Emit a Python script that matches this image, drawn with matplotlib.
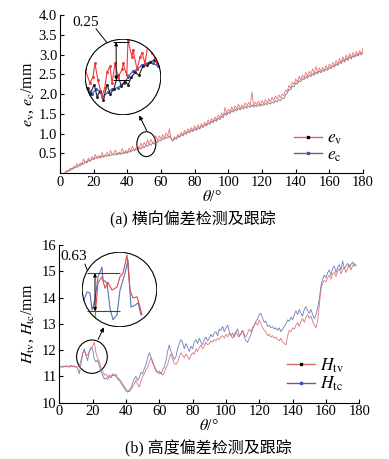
import numpy as np
import matplotlib
matplotlib.use("Agg")
import matplotlib.pyplot as plt
from matplotlib.patches import Circle, Ellipse
from matplotlib.lines import Line2D

plt.rcParams['font.family'] = ['Liberation Serif', 'Noto Sans CJK SC']
plt.rcParams['mathtext.fontset'] = 'stix'

# ---------------- data (a) ----------------
theta_a = np.arange(3, 181)
e_v = [0.02, 0.06, 0.04, 0.12, 0.09, 0.16, 0.13, 0.24, 0.17, 0.25,
       0.21, 0.36, 0.26, 0.30, 0.38, 0.29, 0.42, 0.35, 0.47, 0.38,
       0.44, 0.40, 0.52, 0.41, 0.46, 0.52, 0.43, 0.57, 0.47, 0.51,
       0.58, 0.46, 0.53, 0.49, 0.62, 0.50, 0.57, 0.52, 0.63, 0.55,
       0.68, 0.57, 0.62, 0.71, 0.60, 0.76, 0.65, 0.78, 0.68, 0.84,
       0.72, 0.85, 0.76, 0.80, 0.95, 0.82, 0.94, 0.86, 0.97, 0.89,
       1.02, 0.93, 1.12, 0.88, 0.80, 0.92, 0.86, 0.98, 0.91, 1.03,
       0.96, 1.08, 1.00, 1.12, 1.04, 1.15, 1.07, 1.20, 1.10, 1.22,
       1.14, 1.25, 1.18, 1.29, 1.21, 1.35, 1.26, 1.38, 1.30, 1.42,
       1.35, 1.47, 1.39, 1.52, 1.44, 1.66, 1.50, 1.62, 1.55, 1.67,
       1.58, 1.70, 1.61, 1.74, 1.63, 1.72, 1.66, 1.78, 1.68, 1.79,
       1.70, 2.05, 1.69, 1.80, 1.72, 1.82, 1.71, 1.84, 1.75, 1.86,
       1.77, 1.88, 1.80, 1.92, 1.83, 1.95, 1.86, 1.98, 1.90, 2.00,
       1.95, 2.10, 2.06, 2.22, 2.15, 2.30, 2.24, 2.38, 2.30, 2.45,
       2.36, 2.48, 2.40, 2.55, 2.44, 2.58, 2.48, 2.64, 2.50, 2.70,
       2.54, 2.66, 2.57, 2.68, 2.60, 2.72, 2.63, 2.76, 2.67, 2.80,
       2.70, 2.85, 2.74, 2.90, 2.79, 2.94, 2.83, 2.99, 2.87, 3.02,
       2.92, 3.05, 2.95, 3.08, 2.98, 3.10, 3.01, 3.16]
e_c = [0.01, 0.03, 0.07, 0.05, 0.12, 0.10, 0.17, 0.14, 0.20, 0.18,
       0.25, 0.22, 0.29, 0.26, 0.33, 0.30, 0.36, 0.34, 0.39, 0.37,
       0.41, 0.38, 0.43, 0.40, 0.45, 0.42, 0.46, 0.44, 0.48, 0.45,
       0.49, 0.46, 0.50, 0.47, 0.51, 0.49, 0.53, 0.50, 0.55, 0.53,
       0.58, 0.56, 0.61, 0.58, 0.64, 0.61, 0.67, 0.64, 0.70, 0.67,
       0.73, 0.70, 0.76, 0.73, 0.80, 0.77, 0.84, 0.81, 0.88, 0.85,
       0.91, 0.88, 0.94, 0.86, 0.82, 0.88, 0.85, 0.93, 0.90, 0.97,
       0.94, 1.01, 0.98, 1.05, 1.02, 1.09, 1.05, 1.12, 1.08, 1.15,
       1.11, 1.19, 1.15, 1.23, 1.19, 1.27, 1.23, 1.31, 1.27, 1.35,
       1.31, 1.39, 1.35, 1.44, 1.40, 1.52, 1.46, 1.54, 1.50, 1.58,
       1.54, 1.61, 1.57, 1.64, 1.60, 1.66, 1.62, 1.68, 1.64, 1.69,
       1.66, 1.72, 1.67, 1.71, 1.68, 1.73, 1.69, 1.74, 1.71, 1.76,
       1.73, 1.78, 1.75, 1.80, 1.77, 1.83, 1.80, 1.86, 1.83, 1.90,
       1.88, 1.98, 2.02, 2.12, 2.10, 2.20, 2.18, 2.28, 2.25, 2.34,
       2.31, 2.39, 2.36, 2.44, 2.40, 2.48, 2.44, 2.51, 2.47, 2.55,
       2.51, 2.58, 2.54, 2.60, 2.57, 2.63, 2.60, 2.67, 2.64, 2.71,
       2.68, 2.76, 2.72, 2.81, 2.77, 2.86, 2.81, 2.90, 2.85, 2.94,
       2.89, 2.97, 2.93, 3.00, 2.96, 3.03, 2.99, 3.06]

# zoomed detail (a)
zin_a_red_t = [46.0, 46.66, 47.05, 47.3, 47.7, 48.24, 48.6, 48.9, 49.3, 49.55, 49.95, 50.35, 50.9,
               51.0, 51.5, 51.65, 52.2, 52.3, 52.85, 53.25, 53.5, 53.9, 54.3, 54.8, 55.2, 55.5]
zin_a_red_e = [0.80, 0.71, 0.75, 0.84, 0.73, 0.62, 0.68, 0.78, 0.82, 0.71, 0.84, 0.75, 0.80,
               0.84, 0.76, 0.99, 0.88, 0.93, 0.80, 0.88, 0.91, 0.84, 0.97, 0.91, 0.88, 0.84]
zin_a_blk_t = [46.2, 46.7, 47.2, 47.6, 48.0, 48.4, 48.9, 49.3, 49.8, 50.3, 50.8, 51.2, 51.7, 52.1,
               52.6, 53.1, 53.6, 54.1, 54.6, 55.1, 55.5]
zin_a_blk_e = [0.68, 0.64, 0.70, 0.62, 0.66, 0.60, 0.70, 0.64, 0.67, 0.76, 0.69, 0.72, 0.70, 0.75,
               0.78, 0.76, 0.82, 0.83, 0.85, 0.86, 0.84]
zin_a_blu_t = [46.4, 46.9, 47.5, 48.0, 48.4, 49.0, 49.6, 50.3, 51.1, 51.7, 52.3, 52.9, 53.5, 54.3, 55.0, 55.6]
zin_a_blu_e = [0.68, 0.64, 0.67, 0.65, 0.62, 0.65, 0.67, 0.68, 0.71, 0.75, 0.79, 0.80, 0.83, 0.84, 0.84, 0.82]

# ---------------- data (b) ----------------
H_tv = [11.35, 11.37, 11.34, 11.38, 11.36, 11.39, 11.35, 11.37, 11.40, 11.36,
        11.38, 11.35, 11.40, 11.60, 11.90, 11.95, 11.85, 11.80, 11.95, 12.05,
        12.15, 12.30, 11.90, 11.70, 11.55, 11.35, 11.20, 11.05, 11.10, 10.98,
        11.05, 11.00, 11.10, 11.05, 11.00, 10.95, 10.90, 10.82, 10.70, 10.62,
        10.52, 10.45, 10.42, 10.50, 10.60, 10.72, 10.85, 10.70, 10.60, 10.80,
        11.00, 11.10, 11.25, 11.35, 11.55, 11.70, 11.60, 11.35, 11.20, 11.15,
        11.10, 11.15, 11.05, 11.15, 11.30, 11.45, 11.70, 11.85, 11.65, 11.50,
        11.45, 11.55, 11.75, 11.90, 11.80, 11.70, 11.85, 11.75, 11.65, 11.80,
        11.90, 11.85, 12.05, 11.95, 12.10, 12.20, 12.05, 12.15, 12.30, 12.20,
        12.25, 12.35, 12.30, 12.40, 12.35, 12.45, 12.40, 12.50, 12.55, 12.45,
        12.60, 12.50, 12.65, 12.55, 12.45, 12.60, 12.70, 12.55, 12.50, 12.65,
        12.75, 12.60, 12.50, 12.65, 12.80, 12.70, 12.85, 12.95, 13.05, 12.95,
        13.15, 13.00, 12.85, 12.75, 12.70, 12.55, 12.60, 12.50, 12.55, 12.45,
        12.50, 12.40, 12.35, 12.45, 12.30, 12.25, 12.20, 12.55, 12.75, 12.70,
        12.85, 12.80, 12.95, 13.05, 12.90, 13.10, 13.20, 13.05, 13.25, 13.35,
        13.20, 13.30, 13.10, 12.95, 12.85, 13.10, 13.70, 14.30, 14.55, 14.65,
        14.60, 14.75, 14.85, 14.70, 14.90, 14.95, 14.80, 15.00, 15.10, 14.90,
        15.05, 15.15, 14.95, 15.10, 15.25, 15.05, 15.20, 15.30, 15.20]
H_tc = [11.38, 11.36, 11.40, 11.37, 11.41, 11.36, 11.39, 11.42, 11.37, 11.40,
        11.36, 11.30, 11.10, 11.45, 11.85, 12.05, 11.80, 11.60, 11.95, 12.10,
        12.05, 11.65, 11.55, 11.62, 11.40, 11.20, 11.05, 10.90, 10.95, 10.88,
        11.00, 10.95, 11.05, 11.02, 11.08, 10.90, 10.85, 10.75, 10.65, 10.55,
        10.45, 10.40, 10.48, 10.55, 10.75, 10.90, 11.00, 10.85, 10.95, 11.15,
        11.10, 11.30, 11.45, 11.70, 11.90, 11.75, 11.50, 11.40, 11.25, 11.15,
        11.20, 11.10, 11.25, 11.35, 11.60, 11.95, 12.20, 11.95, 11.80, 11.65,
        11.75, 12.05, 12.25, 12.40, 12.30, 12.05, 12.25, 12.10, 11.95, 12.15,
        12.05, 12.30, 12.40, 12.25, 12.45, 12.30, 12.20, 12.40, 12.50, 12.35,
        12.45, 12.60, 12.50, 12.65, 12.70, 12.55, 12.80, 12.75, 12.90, 12.70,
        12.85, 12.95, 12.70, 12.55, 12.65, 12.50, 12.70, 12.80, 12.55, 12.60,
        12.75, 12.50, 12.35, 12.30, 12.45, 12.60, 12.80, 12.95, 13.10, 13.20,
        13.35, 13.40, 13.20, 13.05, 13.10, 12.90, 12.95, 12.85, 12.90, 12.80,
        12.85, 12.75, 12.85, 12.70, 12.80, 12.90, 13.00, 13.15, 13.10, 13.25,
        13.15, 13.35, 13.50, 13.35, 13.55, 13.40, 13.30, 13.55, 13.65, 13.50,
        13.40, 13.55, 13.35, 13.20, 13.35, 13.60, 13.95, 14.45, 14.70, 14.85,
        14.75, 14.95, 15.05, 14.85, 15.10, 15.20, 14.95, 15.15, 15.25, 15.05,
        15.40, 15.10, 15.20, 15.30, 15.15, 15.25, 15.35, 15.20, 15.25]
theta_b = np.arange(0, len(H_tv))

# zoomed detail (b)
zin_b_red_t = [14.08, 14.56, 15.2, 15.68, 16.16, 16.8, 17.6, 18.08, 18.56, 19.2, 19.68, 20.16, 20.8, 21.28, 21.6]
zin_b_red_h = [11.35, 11.93, 12.03, 11.84, 11.94, 11.81, 11.86, 12.03, 12.09, 12.39, 11.81, 11.68, 11.70, 11.53, 11.40]
zin_b_blu_t = [12.16, 12.8, 13.28, 13.6, 14.08, 14.56, 15.2, 15.36, 16.0, 16.48, 16.96, 17.6, 18.08,
               18.88, 19.36, 19.84, 20.48, 20.96, 21.44]
zin_b_blu_h = [11.60, 11.78, 11.76, 11.48, 11.65, 12.03, 12.19, 11.98, 11.93, 11.51, 11.32, 11.40, 11.81,
               12.09, 12.31, 11.53, 11.56, 11.60, 11.40]

xticks = [0, 20, 40, 60, 80, 100, 120, 140, 160, 180]
yticks_a = [0.5, 1.0, 1.5, 2.0, 2.5, 3.0, 3.5, 4.0]
yticks_b = [10, 11, 12, 13, 14, 15, 16]

RED = '#ea5c5e'
GRAY = '#66666e'
BLUE = '#5a74b0'
RED_B = '#d9676a'

fig = plt.figure(figsize=(3.89, 4.59), dpi=100)

def style(ax):
    for s in ['top', 'right']:
        ax.spines[s].set_visible(False)
    for s in ['left', 'bottom']:
        ax.spines[s].set_linewidth(0.8)
    ax.tick_params(direction='in', length=3, width=0.8, labelsize=10.5, pad=2)

# ---------------- panel (a) ----------------
ax1 = fig.add_axes([0.1542, 0.6231, 0.779, 0.3442])
ax1.plot(theta_a, e_c, color=GRAY, lw=0.6, alpha=0.85)
ax1.plot(theta_a, e_v, color=RED, lw=0.6, alpha=0.85)
ax1.set_xlim(0, 180)
ax1.set_ylim(0, 4.0)
ax1.set_xticks(xticks)
ax1.set_yticks(yticks_a)
ax1.set_yticklabels([f'{v:.1f}' for v in yticks_a])
style(ax1)
ax1.set_xlabel(r'$\theta$/°', fontsize=11.5, labelpad=0)
ax1.set_ylabel(r'$e_\mathrm{v}$, $e_\mathrm{c}$/mm', fontsize=11.5, labelpad=2)
ax1.add_patch(Ellipse((51.3, 0.73), 11.3, 0.63, fill=False, ec='k', lw=0.8))
ax1.annotate('', xy=(46.3, 1.52), xytext=(52.3, 1.01),
             arrowprops=dict(arrowstyle='-|>', color='k', lw=0.7, mutation_scale=6))
ax1.text(15.4, 3.80, '0.25', fontsize=11, ha='center', va='center')
ax1.plot([21.4, 32.7], [3.65, 3.04], color='k', lw=0.7, clip_on=False, zorder=5)

h1 = Line2D([], [], color=RED, lw=1, marker='s', markersize=1.6, mfc='k', mec='k')
h2 = Line2D([], [], color=GRAY, lw=1, marker='s', markersize=1.6, mfc='#2f55c0', mec='#2f55c0')
ax1.legend([h1, h2], [r'$e_\mathrm{v}$', r'$e_\mathrm{c}$'], loc='lower right',
           bbox_to_anchor=(0.985, -0.04), frameon=False, fontsize=12.5, handlelength=1.6,
           handletextpad=0.3, labelspacing=0.0)

# inset (a)
axi1 = fig.add_axes([0.2185, 0.7495, 0.1954, 0.1656])
axi1.set_xlim(46, 56)
axi1.set_ylim(0.5, 1.0)
axi1.axis('off')
clip1 = Circle((0.5, 0.5), 0.5, transform=axi1.transAxes, fc='white', ec='none', zorder=0)
axi1.add_patch(clip1)
for t, e, c in [(zin_a_blu_t, zin_a_blu_e, '#2f55c0'), (zin_a_blk_t, zin_a_blk_e, '#222222'),
                (zin_a_red_t, zin_a_red_e, '#f03a3a')]:
    ln, = axi1.plot(t, e, color=c, lw=0.8, marker='s', markersize=1.0, mfc=c, mec=c)
    ln.set_clip_path(clip1)
axi1.hlines([0.98, 0.73], 49.7, 51.8, color='k', lw=0.7)
axi1.annotate('', xy=(50.1, 0.98), xytext=(50.1, 0.73),
              arrowprops=dict(arrowstyle='<|-|>', color='k', lw=0.7, mutation_scale=5, shrinkA=0, shrinkB=0))
axi1.add_patch(Circle((0.5, 0.5), 0.497, transform=axi1.transAxes, fill=False, ec='k', lw=0.8, zorder=6))

# ---------------- panel (b) ----------------
ax2 = fig.add_axes([0.1524, 0.1227, 0.7712, 0.3436])
ax2.plot(theta_b, H_tc, color=BLUE, lw=0.6, alpha=0.9)
ax2.plot(theta_b, H_tv, color=RED_B, lw=0.6, alpha=0.9)
ax2.set_xlim(0, 180)
ax2.set_ylim(10, 16)
ax2.set_xticks(xticks)
ax2.set_yticks(yticks_b)
style(ax2)
ax2.set_xlabel(r'$\theta$/°', fontsize=11.5, labelpad=0)
ax2.set_ylabel(r'$H_\mathrm{tv}$, $H_\mathrm{tc}$/mm', fontsize=11.5, labelpad=4)
ax2.add_patch(Ellipse((19.6, 11.75), 18.4, 1.27, fill=False, ec='k', lw=0.8))
ax2.annotate('', xy=(27.4, 12.96), xytext=(22.6, 12.31),
             arrowprops=dict(arrowstyle='-|>', color='k', lw=0.7, mutation_scale=6))
ax2.text(8.8, 15.58, '0.63', fontsize=11, ha='center', va='center')
ax2.plot([15.4, 21.4], [15.27, 14.29], color='k', lw=0.7, clip_on=False, zorder=5)

h3 = Line2D([], [], color=RED_B, lw=1, marker='s', markersize=1.6, mfc='k', mec='k')
h4 = Line2D([], [], color=GRAY, lw=1, marker='s', markersize=1.6, mfc='#2f55c0', mec='#2f55c0')
ax2.legend([h3, h4], [r'$H_\mathrm{tv}$', r'$H_\mathrm{tc}$'], loc='lower right',
           bbox_to_anchor=(1.0, -0.04), frameon=False, fontsize=12.5, handlelength=1.6,
           handletextpad=0.3, labelspacing=0.0)

# inset (b)
axi2 = fig.add_axes([0.2108, 0.2876, 0.1928, 0.1634])
axi2.set_xlim(12, 24)
axi2.set_ylim(11.2, 12.44)
axi2.axis('off')
clip2 = Circle((0.5, 0.5), 0.5, transform=axi2.transAxes, fc='white', ec='none', zorder=0)
axi2.add_patch(clip2)
for t, h, c in [(zin_b_blu_t, zin_b_blu_h, BLUE), (zin_b_red_t, zin_b_red_h, '#e04848')]:
    ln, = axi2.plot(t, h, color=c, lw=0.8)
    ln.set_clip_path(clip2)
axi2.hlines([12.09, 11.46], 12.8, 18.1, color='#444444', lw=0.8)
axi2.annotate('', xy=(14.08, 12.09), xytext=(14.08, 11.46),
              arrowprops=dict(arrowstyle='<|-|>', color='k', lw=0.7, mutation_scale=5, shrinkA=0, shrinkB=0))
axi2.add_patch(Circle((0.5, 0.5), 0.497, transform=axi2.transAxes, fill=False, ec='k', lw=0.8, zorder=6))

# captions
fig.text(193 / 389, 1 - 220 / 459, '(a) 横向偏差检测及跟踪', ha='center', va='center', fontsize=11.5)
fig.text(208 / 389, 1 - 449 / 459, '(b) 高度偏差检测及跟踪', ha='center', va='center', fontsize=11.5)

fig.savefig('out.png', dpi=100)
